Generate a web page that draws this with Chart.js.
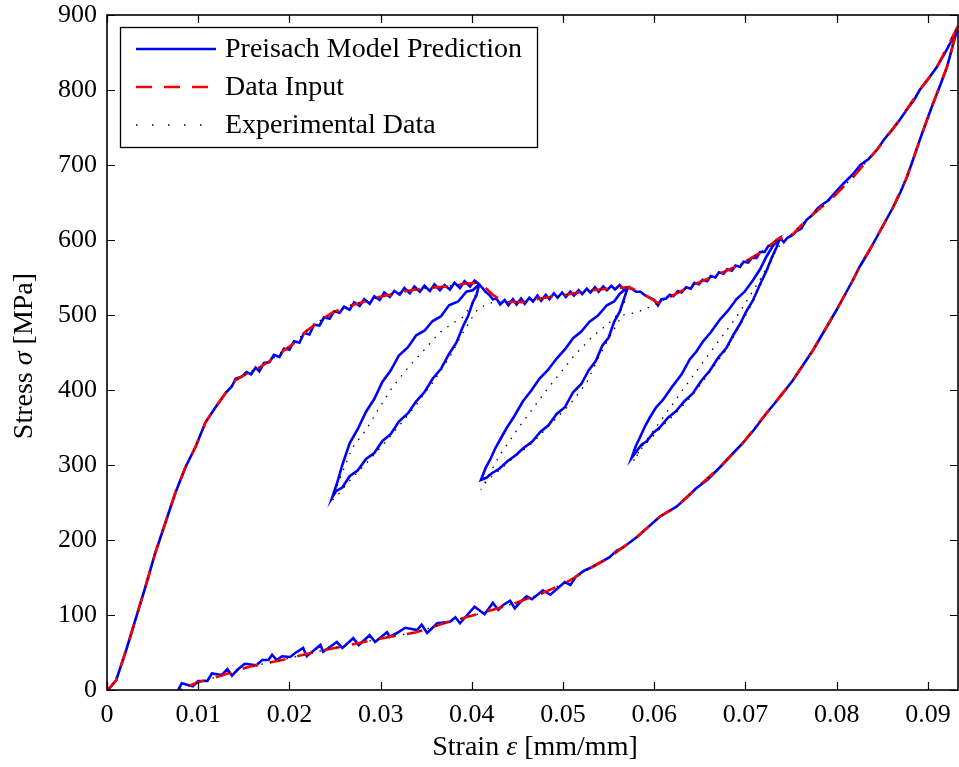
<!DOCTYPE html>
<html>
<head>
<meta charset="utf-8">
<script src="https://cdn.jsdelivr.net/npm/chart.js@4.4.0/dist/chart.umd.min.js"></script>
<style>
    body { margin: 0; background: #fff; }
    canvas { display: block; }
</style>
</head>
<body>
<canvas id="hysteresisChart" width="959" height="767"></canvas>
<script>
// axis ticks
var strainTicks = [0, 0.01, 0.02, 0.03, 0.04, 0.05, 0.06, 0.07, 0.08, 0.09];
var strainTickLabels = ['0', '0.01', '0.02', '0.03', '0.04', '0.05', '0.06', '0.07', '0.08', '0.09'];
var stressTicks = [0, 100, 200, 300, 400, 500, 600, 700, 800, 900];
var strainMax = 0.0933;
var stressMax = 900;

// Data Input (red dashed): loading envelope, then final unloading
var inputLoading = [
    [0, 0], [0.0003, 3], [0.0010, 13], [0.0021, 53], [0.0031, 93], [0.0042, 137], [0.0053, 183],
    [0.0064, 223], [0.0075, 263], [0.0086, 297], [0.0097, 324], [0.0108, 357], [0.0119, 377],
    [0.0130, 396], [0.0141, 413], [0.0156, 424], [0.0167, 430], [0.0180, 440], [0.0192, 451],
    [0.0207, 464], [0.0218, 478], [0.0233, 492], [0.0247, 503], [0.0263, 511], [0.0280, 517],
    [0.0295, 523], [0.0310, 527], [0.0328, 532], [0.0350, 536], [0.0372, 538], [0.0394, 542],
    [0.0408, 543], [0.0416, 535], [0.0423, 527], [0.0434, 518], [0.0455, 517], [0.0467, 520],
    [0.0485, 524], [0.0503, 527], [0.0532, 533], [0.0558, 536], [0.0573, 537], [0.0587, 529],
    [0.0604, 516], [0.0617, 524], [0.0642, 540], [0.0668, 553], [0.0694, 567], [0.0716, 583],
    [0.0730, 596], [0.0738, 603], [0.0745, 599], [0.0767, 627], [0.0796, 657], [0.0818, 684],
    [0.0844, 720], [0.0869, 760], [0.0891, 800], [0.0910, 831], [0.0933, 885]
];
var inputUnloading = [
    [0.0933, 885], [0.0921, 831], [0.0906, 783], [0.0891, 733], [0.0877, 684], [0.0862, 644],
    [0.0844, 604], [0.0825, 564], [0.0818, 547], [0.0800, 507], [0.0774, 453], [0.0752, 413],
    [0.0723, 369], [0.0697, 329], [0.0672, 297], [0.0646, 269], [0.0624, 244], [0.0606, 231],
    [0.0581, 204], [0.0551, 177], [0.0532, 164], [0.0514, 151], [0.0503, 143], [0.0477, 129],
    [0.0448, 116], [0.0412, 103], [0.0375, 91], [0.0339, 77], [0.0302, 69], [0.0266, 60],
    [0.0229, 51], [0.0192, 40], [0.0156, 31], [0.0119, 17], [0.0097, 9], [0.0079, 0]
];

// Preisach Model Prediction (blue)
var modelLoading = [
    [0, 0], [0.0003, 3], [0.0010, 13], [0.0021, 53], [0.0031, 93], [0.0042, 137], [0.0053, 183],
    [0.0064, 223], [0.0075, 263], [0.0086, 297], [0.0097, 324], [0.0108, 357], [0.0119, 377],
    [0.0130, 396], [0.0137, 405], [0.0141, 415], [0.0148, 418], [0.0153, 424], [0.0158, 421],
    [0.0163, 430], [0.0167, 425], [0.0172, 436], [0.0178, 437], [0.0183, 447], [0.0189, 444],
    [0.0194, 455], [0.0200, 454], [0.0205, 465], [0.0211, 463], [0.0216, 476], [0.0222, 474],
    [0.0227, 487], [0.0233, 486], [0.0238, 497], [0.0244, 495], [0.0249, 505], [0.0255, 503],
    [0.0260, 511], [0.0266, 507], [0.0271, 517], [0.0277, 512], [0.0282, 521], [0.0288, 515],
    [0.0293, 525], [0.0299, 520], [0.0304, 530], [0.0310, 524], [0.0315, 532], [0.0321, 527],
    [0.0326, 536], [0.0332, 529], [0.0337, 538], [0.0343, 531], [0.0348, 539], [0.0354, 532],
    [0.0359, 541], [0.0365, 533], [0.0370, 540], [0.0376, 534], [0.0381, 543], [0.0387, 536],
    [0.0392, 545], [0.0398, 538], [0.0403, 546], [0.0408, 541]
];
var modelLoop1 = [
    [0.0405, 526], [0.0401, 517], [0.0396, 499], [0.0390, 484], [0.0383, 463], [0.0375, 448],
    [0.0366, 428], [0.0357, 415], [0.0348, 397], [0.0339, 385], [0.0330, 369], [0.0320, 358],
    [0.0311, 341], [0.0302, 332], [0.0293, 316], [0.0284, 308], [0.0275, 293], [0.0266, 285],
    [0.0258, 270], [0.0251, 265], [0.0247, 257],
    [0.0252, 275], [0.0258, 300], [0.0266, 329], [0.0275, 348], [0.0284, 371], [0.0293, 388],
    [0.0302, 411], [0.0311, 426], [0.0320, 446], [0.0330, 457], [0.0339, 473], [0.0348, 479],
    [0.0357, 492], [0.0366, 498], [0.0375, 513], [0.0385, 518], [0.0394, 531], [0.0401, 533],
    [0.0408, 541]
];
var modelPlateau1 = [
    [0.0411, 537], [0.0415, 531], [0.0419, 527], [0.0423, 521], [0.0427, 522], [0.0431, 514],
    [0.0436, 520], [0.0440, 513], [0.0445, 521], [0.0449, 514], [0.0454, 522], [0.0458, 515],
    [0.0463, 523], [0.0467, 518], [0.0472, 526], [0.0476, 519], [0.0481, 527], [0.0485, 521],
    [0.0490, 529], [0.0494, 523], [0.0499, 530], [0.0503, 524], [0.0508, 531], [0.0512, 526],
    [0.0517, 533], [0.0521, 528], [0.0526, 535], [0.0530, 530], [0.0535, 537], [0.0539, 531],
    [0.0544, 538], [0.0548, 533], [0.0553, 539], [0.0557, 534], [0.0562, 540], [0.0566, 535],
    [0.0571, 537]
];
var modelLoop2 = [
    [0.0567, 522], [0.0562, 504], [0.0556, 491], [0.0550, 470], [0.0543, 459], [0.0536, 439],
    [0.0528, 426], [0.0520, 408], [0.0511, 397], [0.0502, 377], [0.0493, 368], [0.0484, 353],
    [0.0475, 344], [0.0466, 331], [0.0457, 323], [0.0448, 313], [0.0439, 305], [0.0430, 295],
    [0.0422, 289], [0.0416, 283], [0.0410, 280],
    [0.0415, 296], [0.0420, 307], [0.0426, 323], [0.0432, 336], [0.0438, 349], [0.0446, 364],
    [0.0456, 385], [0.0465, 399], [0.0474, 415], [0.0483, 426], [0.0493, 442], [0.0502, 454],
    [0.0511, 469], [0.0520, 478], [0.0529, 491], [0.0538, 499], [0.0548, 513], [0.0556, 518],
    [0.0562, 528], [0.0571, 537]
];
var modelPlateau2 = [
    [0.0575, 535], [0.0580, 531], [0.0585, 531], [0.0590, 526], [0.0595, 523], [0.0600, 520],
    [0.0604, 513], [0.0608, 521], [0.0613, 522], [0.0617, 527], [0.0621, 525], [0.0626, 532],
    [0.0630, 530], [0.0635, 537], [0.0640, 535], [0.0644, 543], [0.0649, 541], [0.0653, 547],
    [0.0658, 545], [0.0662, 552], [0.0667, 550], [0.0671, 557], [0.0676, 555], [0.0680, 561],
    [0.0685, 559], [0.0689, 566], [0.0694, 564], [0.0698, 571], [0.0703, 570], [0.0707, 576],
    [0.0712, 576], [0.0716, 584], [0.0721, 584], [0.0725, 592], [0.0730, 594], [0.0734, 600],
    [0.0738, 603]
];
var modelLoop3 = [
    [0.0734, 590], [0.0729, 577], [0.0723, 559], [0.0716, 541], [0.0708, 519], [0.0701, 505],
    [0.0694, 488], [0.0687, 474], [0.0679, 456], [0.0670, 443], [0.0661, 426], [0.0652, 413],
    [0.0642, 395], [0.0633, 385], [0.0624, 372], [0.0615, 363], [0.0606, 350], [0.0599, 343],
    [0.0592, 332], [0.0586, 327], [0.0581, 319], [0.0575, 309],
    [0.0580, 326], [0.0584, 336], [0.0590, 352], [0.0595, 363], [0.0602, 377], [0.0609, 386],
    [0.0620, 405], [0.0630, 421], [0.0639, 441], [0.0646, 451], [0.0653, 464], [0.0662, 477],
    [0.0672, 494], [0.0681, 506], [0.0690, 521], [0.0699, 531], [0.0708, 546], [0.0716, 561],
    [0.0723, 578], [0.0730, 592], [0.0738, 603]
];
var modelHardening = [
    [0.0742, 597], [0.0746, 603], [0.0751, 606], [0.0756, 612], [0.0761, 615], [0.0767, 627],
    [0.0773, 633], [0.0779, 642], [0.0785, 648], [0.0790, 652], [0.0796, 660], [0.0802, 668],
    [0.0808, 676], [0.0813, 682], [0.0818, 688], [0.0826, 700], [0.0835, 708], [0.0844, 720],
    [0.0852, 734], [0.0860, 746], [0.0869, 760], [0.0877, 774], [0.0885, 787], [0.0891, 800],
    [0.0900, 814], [0.0910, 831], [0.0918, 848], [0.0926, 866], [0.0933, 885]
];
var modelUnloading = [
    [0.0927, 858], [0.0921, 831], [0.0914, 808], [0.0906, 783], [0.0898, 757], [0.0891, 733],
    [0.0884, 708], [0.0877, 684], [0.0870, 664], [0.0862, 644], [0.0853, 624], [0.0844, 604],
    [0.0835, 584], [0.0825, 564], [0.0818, 547], [0.0809, 527], [0.0800, 507], [0.0787, 480],
    [0.0774, 453], [0.0763, 433], [0.0752, 413], [0.0738, 391], [0.0723, 369], [0.0710, 348],
    [0.0697, 329], [0.0685, 314], [0.0672, 297], [0.0659, 281], [0.0646, 269], [0.0635, 256],
    [0.0624, 244], [0.0615, 238], [0.0606, 231], [0.0594, 218], [0.0581, 204], [0.0566, 190],
    [0.0559, 186], [0.0551, 177], [0.0541, 170], [0.0532, 164], [0.0523, 159], [0.0514, 151],
    [0.0508, 140], [0.0502, 144], [0.0486, 127], [0.0478, 133], [0.0466, 121], [0.0460, 125],
    [0.0453, 117], [0.0447, 109], [0.0442, 119], [0.0434, 113], [0.0429, 107], [0.0423, 116],
    [0.0414, 101], [0.0403, 111], [0.0392, 96], [0.0387, 89], [0.0382, 97], [0.0376, 91],
    [0.0362, 89], [0.0351, 76], [0.0345, 87], [0.0340, 80], [0.0327, 83], [0.0318, 76],
    [0.0310, 71], [0.0307, 77], [0.0294, 64], [0.0288, 73], [0.0276, 60], [0.0270, 69],
    [0.0258, 56], [0.0252, 64], [0.0244, 57], [0.0237, 51], [0.0234, 60], [0.0226, 52],
    [0.0219, 45], [0.0215, 56], [0.0206, 49], [0.0201, 44], [0.0192, 45], [0.0186, 40],
    [0.0181, 47], [0.0177, 40], [0.0170, 40], [0.0164, 33], [0.0151, 35], [0.0143, 27],
    [0.0137, 19], [0.0132, 28], [0.0126, 20], [0.0115, 22], [0.0110, 12], [0.0100, 12],
    [0.0094, 5], [0.0082, 9], [0.0078, 0]
];

// Experimental Data (black dotted)
var expLoading = inputLoading.slice(0, 32);
var expLoop1 = [
    [0.0401, 516], [0.0390, 497], [0.0379, 489], [0.0364, 476], [0.0346, 451], [0.0331, 431],
    [0.0313, 404], [0.0299, 377], [0.0284, 347], [0.0269, 323], [0.0258, 290], [0.0249, 262],
    [0.0247, 253],
    [0.0255, 263], [0.0266, 279], [0.0284, 302], [0.0302, 326], [0.0320, 352], [0.0339, 380],
    [0.0357, 410], [0.0375, 442], [0.0390, 476], [0.0401, 498], [0.0406, 507], [0.0413, 512],
    [0.0420, 516]
];
var expPlateau1 = [
    [0.0434, 518], [0.0455, 517], [0.0467, 520], [0.0485, 524], [0.0503, 527], [0.0532, 533],
    [0.0558, 536], [0.0571, 537]
];
var expLoop2 = [
    [0.0566, 510], [0.0554, 493], [0.0532, 471], [0.0511, 444], [0.0482, 400], [0.0452, 351],
    [0.0430, 312], [0.0418, 285], [0.0410, 267],
    [0.0416, 278], [0.0430, 293], [0.0448, 312], [0.0467, 330], [0.0485, 353], [0.0507, 380],
    [0.0526, 410], [0.0540, 446], [0.0554, 477], [0.0565, 500], [0.0580, 503], [0.0592, 509],
    [0.0604, 516]
];
var expPlateau2 = [
    [0.0617, 524], [0.0642, 540], [0.0668, 553], [0.0694, 567], [0.0716, 583], [0.0730, 596],
    [0.0738, 603]
];
var expLoop3 = [
    [0.0730, 578], [0.0715, 545], [0.0690, 497], [0.0660, 448], [0.0630, 398], [0.0600, 347],
    [0.0585, 322], [0.0577, 305],
    [0.0586, 322], [0.0606, 348], [0.0624, 370], [0.0642, 393], [0.0661, 424], [0.0679, 454],
    [0.0694, 486], [0.0708, 517], [0.0723, 557], [0.0734, 588], [0.0742, 598]
];
var expHardening = inputLoading.slice(52);

function toPoints(parts) {
    var out = [];
    parts.forEach(function(part) {
        part.forEach(function(p) { out.push({ x: p[0], y: p[1] }); });
    });
    return out;
}

var blueDash = [];
var redDash = [16, 12];
var blackDash = [1.5, 7];

var legendItems = [
    { text: 'Preisach Model Prediction', color: '#0000ff', dash: blueDash, width: 2.6 },
    { text: 'Data Input', color: '#ff0000', dash: redDash, width: 2.6 },
    { text: 'Experimental Data', color: '#000000', dash: [1.5, 14.5], width: 1.3 }
];

var serif = '"Liberation Serif", "Times New Roman", serif';

var framePlugin = {
    id: 'frame',
    afterDraw: function(chart) {
        var ctx = chart.ctx;
        var a = chart.chartArea;
        var xs = chart.scales.x, ys = chart.scales.y;
        ctx.save();
        ctx.strokeStyle = '#000';
        ctx.lineWidth = 1.6;
        ctx.strokeRect(a.left, a.top, a.right - a.left, a.bottom - a.top);
        // inward ticks on all four sides
        ctx.lineWidth = 1.2;
        ctx.beginPath();
        strainTicks.forEach(function(v) {
            var px = Math.round(xs.getPixelForValue(v)) + 0.5;
            ctx.moveTo(px, a.bottom); ctx.lineTo(px, a.bottom - 8);
            ctx.moveTo(px, a.top); ctx.lineTo(px, a.top + 8);
        });
        stressTicks.forEach(function(v) {
            var py = Math.round(ys.getPixelForValue(v)) + 0.5;
            ctx.moveTo(a.left, py); ctx.lineTo(a.left + 8, py);
            ctx.moveTo(a.right, py); ctx.lineTo(a.right - 8, py);
        });
        ctx.stroke();

        // legend box
        var bx = 120, by = 27, bw = 417, bh = 120;
        ctx.fillStyle = '#fff';
        ctx.fillRect(bx, by, bw, bh);
        ctx.lineWidth = 1.3;
        ctx.strokeRect(bx + 0.5, by + 0.5, bw, bh);
        ctx.font = '28px ' + serif;
        ctx.textBaseline = 'middle';
        ctx.textAlign = 'left';
        legendItems.forEach(function(item, i) {
            var ly = by + 22 + i * 38;
            ctx.beginPath();
            ctx.strokeStyle = item.color;
            ctx.lineWidth = item.width;
            ctx.setLineDash(item.dash);
            ctx.moveTo(136, ly);
            ctx.lineTo(216, ly);
            ctx.stroke();
            ctx.setLineDash([]);
            ctx.fillStyle = '#000';
            ctx.fillText(item.text, 225, ly + 1);
        });

        // axis titles with italic symbols
        function mixed(parts, cx, cy) {
            var total = 0;
            parts.forEach(function(p) {
                ctx.font = (p.italic ? 'italic ' : '') + '28px ' + serif;
                p.w = ctx.measureText(p.t).width;
                total += p.w;
            });
            var x = cx - total / 2;
            parts.forEach(function(p) {
                ctx.font = (p.italic ? 'italic ' : '') + '28px ' + serif;
                ctx.fillText(p.t, x, cy);
                x += p.w;
            });
        }
        ctx.fillStyle = '#000';
        ctx.textBaseline = 'middle';
        mixed([{ t: 'Strain ' }, { t: '\u03b5', italic: true }, { t: ' [mm/mm]' }], 535, 748);
        ctx.translate(25, 356);
        ctx.rotate(-Math.PI / 2);
        mixed([{ t: 'Stress ' }, { t: '\u03c3', italic: true }, { t: ' [MPa]' }], 0, 0);
        ctx.restore();
    }
};

var ctx = document.getElementById('hysteresisChart').getContext('2d');
var chart = new Chart(ctx, {
    type: 'scatter',
    data: {
        datasets: [
            {
                label: 'Experimental Data',
                data: toPoints([expLoading, expLoop1, expPlateau1, expLoop2, expPlateau2, expLoop3, expHardening, inputUnloading]),
                showLine: true,
                borderColor: '#000',
                borderWidth: 1.3,
                borderDash: blackDash,
                pointRadius: 0,
                order: 0
            },
            {
                label: 'Data Input',
                data: toPoints([inputLoading, inputUnloading]),
                showLine: true,
                borderColor: '#ff0000',
                borderWidth: 2.6,
                borderDash: redDash,
                pointRadius: 0,
                order: 1
            },
            {
                label: 'Preisach Model Prediction',
                data: toPoints([modelLoading, modelLoop1, modelPlateau1, modelLoop2, modelPlateau2, modelLoop3, modelHardening, modelUnloading]),
                showLine: true,
                borderColor: '#0000ff',
                borderWidth: 2.6,
                pointRadius: 0,
                order: 2
            }
        ]
    },
    options: {
        responsive: false,
        animation: false,
        layout: { padding: { top: 15, right: 1, left: 0, bottom: 0 } },
        plugins: {
            legend: { display: false },
            tooltip: { enabled: false }
        },
        scales: {
            x: {
                type: 'linear',
                min: 0,
                max: strainMax,
                grid: { display: false, drawTicks: false },
                border: { display: false },
                afterBuildTicks: function(scale) {
                    scale.ticks = strainTicks.map(function(v) { return { value: v }; });
                },
                afterFit: function(scale) {
                    scale.height = 77;
                    scale.paddingLeft = 0;
                    scale.paddingRight = 0;
                },
                ticks: {
                    maxRotation: 0,
                    autoSkip: false,
                    padding: 10,
                    color: '#000',
                    font: { family: serif, size: 26 },
                    callback: function(value, index) { return strainTickLabels[index]; }
                }
            },
            y: {
                type: 'linear',
                min: 0,
                max: stressMax,
                grid: { display: false, drawTicks: false },
                border: { display: false },
                afterBuildTicks: function(scale) {
                    scale.ticks = stressTicks.map(function(v) { return { value: v }; });
                },
                afterFit: function(scale) {
                    scale.width = 107;
                    scale.paddingTop = 0;
                    scale.paddingBottom = 0;
                },
                ticks: {
                    autoSkip: false,
                    padding: 10,
                    color: '#000',
                    font: { family: serif, size: 26 },
                    callback: function(value) { return String(value); }
                }
            }
        }
    },
    plugins: [framePlugin]
});
</script>
</body>
</html>
